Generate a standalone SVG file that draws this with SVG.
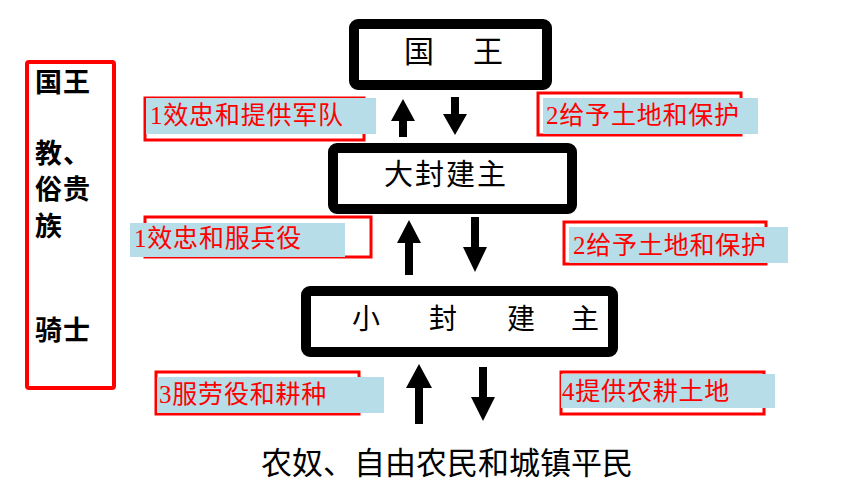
<svg xmlns="http://www.w3.org/2000/svg" width="860" height="496" viewBox="0 0 860 496">
<style>
.box{fill:#fff;stroke:#000;stroke-width:10}
.bt{font-family:"Noto Sans CJK SC","Noto Sans",sans-serif;fill:#000}
.lr{fill:#fff;stroke:#ff0000;stroke-width:3}
.lb{fill:#b7dde8}
.lt{font-family:"Liberation Serif","Noto Sans CJK SC",serif;font-size:25px;fill:#ff0000;letter-spacing:0.8px}
.side{font-family:"Noto Sans CJK SC","Noto Sans",sans-serif;font-size:27px;font-weight:bold;fill:#000;letter-spacing:1px}
.arr{fill:#000}
</style>
<rect width="860" height="496" fill="#fff"/>
<g id="legend">
<rect x="27" y="62" width="87" height="326" fill="none" stroke="#ff0000" stroke-width="4" rx="2"/>
<text class="side" x="35" y="92">国王</text>
<text class="side" x="35" y="163">教、</text>
<text class="side" x="35" y="199">俗贵</text>
<text class="side" x="35" y="236">族</text>
<text class="side" x="35" y="340">骑士</text>
</g>
<g id="king">
<rect class="box" x="354" y="24" width="193" height="61" rx="4"/>
<text class="bt" x="404" y="62" font-size="30" letter-spacing="4.5">国　王</text>
</g>
<g id="greatlord">
<rect class="box" x="333" y="148" width="239" height="61" rx="4"/>
<text class="bt" x="384" y="185" font-size="29" letter-spacing="2">大封建主</text>
</g>
<g id="lesserlord">
<rect class="box" x="306" y="291" width="307" height="61" rx="4"/>
<text class="bt" x="352 429 507 571" y="329" font-size="28">小封建主</text>
</g>
<g id="peasants">
<text class="bt" x="261" y="474" font-size="31">农奴、自由农民和城镇平民</text>
</g>
<g id="connectors">
<polygon class="arr" points="403,99 415,121 407,121 407,137 399,137 399,121 391,121"/>
<polygon class="arr" points="451,97 459,97 459,114 467,114 455,135 443,114 451,114"/>
<polygon class="arr" points="409,220 421,243 413,243 413,275 405,275 405,243 397,243"/>
<polygon class="arr" points="471,217 479,217 479,247 487,247 475,272 463,247 471,247"/>
<polygon class="arr" points="419,364 432,388 423,388 423,424 415,424 415,388 406,388"/>
<polygon class="arr" points="479,367 487,367 487,397 495,397 483,421 471,397 479,397"/>
</g>
<g id="label1">
<rect class="lr" x="145" y="98" width="219" height="42"/>
<rect class="lb" x="146" y="98" width="230" height="36"/>
<text class="lt" x="150" y="124">1效忠和提供军队</text>
</g>
<g id="label2">
<rect class="lr" x="538" y="93" width="203" height="42"/>
<rect class="lb" x="543" y="98" width="215" height="36"/>
<text class="lt" x="546" y="124">2给予土地和保护</text>
</g>
<g id="label3">
<rect class="lr" x="145" y="217" width="226" height="40"/>
<rect class="lb" x="130" y="223" width="215" height="34"/>
<text class="lt" x="134" y="247">1效忠和服兵役</text>
</g>
<g id="label4">
<rect class="lr" x="564" y="222" width="202" height="42"/>
<rect class="lb" x="569" y="227" width="219" height="36"/>
<text class="lt" x="573" y="254">2给予土地和保护</text>
</g>
<g id="label5">
<rect class="lr" x="156" y="372" width="203" height="42"/>
<rect class="lb" x="157" y="377" width="227" height="36"/>
<text class="lt" x="159" y="403">3服劳役和耕种</text>
</g>
<g id="label6">
<rect class="lr" x="561" y="372" width="203" height="42"/>
<rect class="lb" x="561" y="374" width="214" height="34"/>
<text class="lt" x="562" y="400">4提供农耕土地</text>
</g>
</svg>
